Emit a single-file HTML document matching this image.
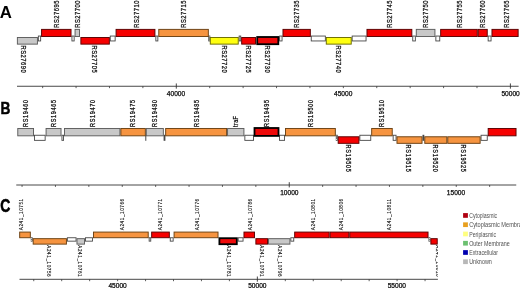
<!DOCTYPE html>
<html><head><meta charset="utf-8"><style>
html,body{margin:0;padding:0;background:#fff;}
body{width:520px;height:288px;overflow:hidden;}
svg{display:block;font-family:"Liberation Sans",sans-serif;}
</style></head><body>
<svg width="520" height="288" viewBox="0 0 520 288">
<defs><clipPath id="clipC"><rect x="0" y="190" width="437.9" height="98"/></clipPath></defs>
<rect width="520" height="288" fill="#fff"/>
<rect x="38.35" y="36.05" width="2.30" height="4.90" fill="#ffffff" stroke="#474747" stroke-width="0.9"/>
<rect x="71.95" y="36.05" width="2.20" height="4.90" fill="#ffffff" stroke="#474747" stroke-width="0.9"/>
<rect x="110.25" y="36.05" width="4.90" height="4.90" fill="#ffffff" stroke="#474747" stroke-width="0.9"/>
<rect x="155.85" y="36.05" width="2.00" height="4.90" fill="#ffffff" stroke="#474747" stroke-width="0.9"/>
<rect x="208.75" y="36.05" width="1.10" height="4.90" fill="#ffffff" stroke="#474747" stroke-width="0.9"/>
<rect x="239.15" y="36.05" width="1.60" height="4.90" fill="#ffffff" stroke="#474747" stroke-width="0.9"/>
<rect x="279.65" y="36.05" width="2.40" height="4.90" fill="#ffffff" stroke="#474747" stroke-width="0.9"/>
<rect x="311.25" y="36.05" width="14.10" height="4.90" fill="#ffffff" stroke="#474747" stroke-width="0.9"/>
<rect x="352.15" y="36.05" width="13.90" height="4.90" fill="#ffffff" stroke="#474747" stroke-width="0.9"/>
<rect x="412.75" y="36.05" width="2.60" height="4.90" fill="#ffffff" stroke="#474747" stroke-width="0.9"/>
<rect x="435.85" y="36.05" width="3.90" height="4.90" fill="#ffffff" stroke="#474747" stroke-width="0.9"/>
<rect x="488.15" y="36.05" width="2.90" height="4.90" fill="#ffffff" stroke="#474747" stroke-width="0.9"/>
<rect x="17.38" y="37.48" width="20.05" height="6.65" fill="#c8c8c8" stroke="#5c5c5c" stroke-width="0.95"/>
<rect x="41.58" y="29.38" width="29.45" height="7.15" fill="#f60000" stroke="#5a0000" stroke-width="0.95"/>
<rect x="75.07" y="29.38" width="4.45" height="7.15" fill="#c8c8c8" stroke="#5c5c5c" stroke-width="0.95"/>
<rect x="80.88" y="37.48" width="28.45" height="6.65" fill="#f60000" stroke="#5a0000" stroke-width="0.95"/>
<rect x="116.07" y="29.38" width="38.85" height="7.15" fill="#f60000" stroke="#5a0000" stroke-width="0.95"/>
<rect x="158.78" y="29.38" width="49.55" height="7.15" fill="#f69440" stroke="#6a4012" stroke-width="0.95"/>
<rect x="210.28" y="37.48" width="27.95" height="6.65" fill="#ffff10" stroke="#6a6a00" stroke-width="0.95"/>
<rect x="241.67" y="37.48" width="13.85" height="6.65" fill="#f60000" stroke="#5a0000" stroke-width="0.95"/>
<rect x="257.20" y="37.00" width="21.10" height="7.20" fill="#ee0a0a" stroke="#000000" stroke-width="1.8"/>
<rect x="282.98" y="29.38" width="27.35" height="7.15" fill="#f60000" stroke="#5a0000" stroke-width="0.95"/>
<rect x="326.28" y="37.48" width="24.95" height="6.65" fill="#ffff10" stroke="#6a6a00" stroke-width="0.95"/>
<rect x="366.98" y="29.38" width="44.85" height="7.15" fill="#f60000" stroke="#5a0000" stroke-width="0.95"/>
<rect x="416.28" y="29.38" width="18.65" height="7.15" fill="#c8c8c8" stroke="#5c5c5c" stroke-width="0.95"/>
<rect x="440.68" y="29.38" width="36.55" height="7.15" fill="#f60000" stroke="#5a0000" stroke-width="0.95"/>
<rect x="478.18" y="29.38" width="9.05" height="7.15" fill="#f60000" stroke="#5a0000" stroke-width="0.95"/>
<rect x="491.98" y="29.38" width="26.15" height="7.15" fill="#f60000" stroke="#5a0000" stroke-width="0.95"/>
<rect x="34.45" y="135.25" width="10.70" height="5.10" fill="#ffffff" stroke="#474747" stroke-width="0.9"/>
<rect x="61.95" y="135.25" width="1.60" height="5.10" fill="#ffffff" stroke="#474747" stroke-width="0.9"/>
<rect x="145.75" y="135.25" width="0.10" height="5.10" fill="#ffffff" stroke="#474747" stroke-width="0.9"/>
<rect x="164.05" y="135.25" width="0.90" height="5.10" fill="#ffffff" stroke="#474747" stroke-width="0.9"/>
<rect x="244.85" y="135.25" width="8.70" height="5.10" fill="#ffffff" stroke="#474747" stroke-width="0.9"/>
<rect x="279.45" y="135.25" width="5.10" height="5.10" fill="#ffffff" stroke="#474747" stroke-width="0.9"/>
<rect x="336.25" y="135.25" width="1.00" height="5.10" fill="#ffffff" stroke="#474747" stroke-width="0.9"/>
<rect x="359.85" y="135.25" width="10.90" height="5.10" fill="#ffffff" stroke="#474747" stroke-width="0.9"/>
<rect x="393.15" y="135.25" width="2.90" height="5.10" fill="#ffffff" stroke="#474747" stroke-width="0.9"/>
<rect x="422.95" y="135.25" width="0.90" height="5.10" fill="#ffffff" stroke="#474747" stroke-width="0.9"/>
<rect x="481.05" y="135.25" width="6.20" height="5.10" fill="#ffffff" stroke="#474747" stroke-width="0.9"/>
<rect x="17.78" y="128.47" width="15.75" height="7.35" fill="#c8c8c8" stroke="#5c5c5c" stroke-width="0.95"/>
<rect x="46.08" y="128.47" width="14.95" height="7.35" fill="#c8c8c8" stroke="#5c5c5c" stroke-width="0.95"/>
<rect x="64.47" y="128.47" width="55.45" height="7.35" fill="#c8c8c8" stroke="#5c5c5c" stroke-width="0.95"/>
<rect x="120.88" y="128.47" width="24.45" height="7.35" fill="#f69440" stroke="#6a4012" stroke-width="0.95"/>
<rect x="146.28" y="128.47" width="17.05" height="7.35" fill="#c8c8c8" stroke="#5c5c5c" stroke-width="0.95"/>
<rect x="165.67" y="128.47" width="60.95" height="7.35" fill="#f69440" stroke="#6a4012" stroke-width="0.95"/>
<rect x="227.57" y="128.47" width="16.35" height="7.35" fill="#c8c8c8" stroke="#5c5c5c" stroke-width="0.95"/>
<rect x="254.50" y="128.00" width="24.00" height="7.90" fill="#ee0a0a" stroke="#000000" stroke-width="1.8"/>
<rect x="285.48" y="128.47" width="49.85" height="7.35" fill="#f69440" stroke="#6a4012" stroke-width="0.95"/>
<rect x="338.18" y="136.78" width="20.75" height="6.55" fill="#f60000" stroke="#5a0000" stroke-width="0.95"/>
<rect x="371.68" y="128.47" width="20.55" height="7.35" fill="#f69440" stroke="#6a4012" stroke-width="0.95"/>
<rect x="396.98" y="136.78" width="25.05" height="6.55" fill="#f69440" stroke="#6a4012" stroke-width="0.95"/>
<rect x="424.78" y="136.78" width="22.05" height="6.55" fill="#f69440" stroke="#6a4012" stroke-width="0.95"/>
<rect x="447.78" y="136.78" width="32.35" height="6.55" fill="#f69440" stroke="#6a4012" stroke-width="0.95"/>
<rect x="488.18" y="128.47" width="27.85" height="7.35" fill="#f60000" stroke="#5a0000" stroke-width="0.95"/>
<line x1="17" y1="86.25" x2="518.6" y2="86.25" stroke="#484848" stroke-width="1.0"/>
<line x1="42.66" y1="86.25" x2="42.66" y2="88.15" stroke="#333" stroke-width="0.8"/>
<line x1="76.07" y1="86.25" x2="76.07" y2="88.15" stroke="#333" stroke-width="0.8"/>
<line x1="109.48" y1="86.25" x2="109.48" y2="88.15" stroke="#333" stroke-width="0.8"/>
<line x1="142.89" y1="86.25" x2="142.89" y2="88.15" stroke="#333" stroke-width="0.8"/>
<line x1="176.30" y1="83.45" x2="176.30" y2="88.65" stroke="#333" stroke-width="0.9"/>
<line x1="209.71" y1="86.25" x2="209.71" y2="88.15" stroke="#333" stroke-width="0.8"/>
<line x1="243.12" y1="86.25" x2="243.12" y2="88.15" stroke="#333" stroke-width="0.8"/>
<line x1="276.53" y1="86.25" x2="276.53" y2="88.15" stroke="#333" stroke-width="0.8"/>
<line x1="309.94" y1="86.25" x2="309.94" y2="88.15" stroke="#333" stroke-width="0.8"/>
<line x1="343.35" y1="86.25" x2="343.35" y2="88.15" stroke="#333" stroke-width="0.8"/>
<line x1="376.76" y1="86.25" x2="376.76" y2="88.15" stroke="#333" stroke-width="0.8"/>
<line x1="410.17" y1="86.25" x2="410.17" y2="88.15" stroke="#333" stroke-width="0.8"/>
<line x1="443.58" y1="86.25" x2="443.58" y2="88.15" stroke="#333" stroke-width="0.8"/>
<line x1="476.99" y1="86.25" x2="476.99" y2="88.15" stroke="#333" stroke-width="0.8"/>
<line x1="510.40" y1="83.45" x2="510.40" y2="88.65" stroke="#333" stroke-width="0.9"/>
<line x1="16.25" y1="185.0" x2="516.25" y2="185.0" stroke="#484848" stroke-width="1.0"/>
<line x1="22.05" y1="185.0" x2="22.05" y2="186.9" stroke="#333" stroke-width="0.8"/>
<line x1="55.45" y1="185.0" x2="55.45" y2="186.9" stroke="#333" stroke-width="0.8"/>
<line x1="88.85" y1="185.0" x2="88.85" y2="186.9" stroke="#333" stroke-width="0.8"/>
<line x1="122.25" y1="185.0" x2="122.25" y2="186.9" stroke="#333" stroke-width="0.8"/>
<line x1="155.65" y1="185.0" x2="155.65" y2="186.9" stroke="#333" stroke-width="0.8"/>
<line x1="189.05" y1="185.0" x2="189.05" y2="186.9" stroke="#333" stroke-width="0.8"/>
<line x1="222.45" y1="185.0" x2="222.45" y2="186.9" stroke="#333" stroke-width="0.8"/>
<line x1="255.85" y1="185.0" x2="255.85" y2="186.9" stroke="#333" stroke-width="0.8"/>
<line x1="289.25" y1="182.2" x2="289.25" y2="187.4" stroke="#333" stroke-width="0.9"/>
<line x1="322.65" y1="185.0" x2="322.65" y2="186.9" stroke="#333" stroke-width="0.8"/>
<line x1="356.05" y1="185.0" x2="356.05" y2="186.9" stroke="#333" stroke-width="0.8"/>
<line x1="389.45" y1="185.0" x2="389.45" y2="186.9" stroke="#333" stroke-width="0.8"/>
<line x1="422.85" y1="185.0" x2="422.85" y2="186.9" stroke="#333" stroke-width="0.8"/>
<line x1="456.25" y1="185.0" x2="456.25" y2="186.9" stroke="#333" stroke-width="0.8"/>
<line x1="489.65" y1="185.0" x2="489.65" y2="186.9" stroke="#333" stroke-width="0.8"/>
<line x1="19.5" y1="279.3" x2="437.9" y2="279.3" stroke="#484848" stroke-width="1.0"/>
<line x1="33.75" y1="279.3" x2="33.75" y2="281.2" stroke="#333" stroke-width="0.8"/>
<line x1="61.70" y1="279.3" x2="61.70" y2="281.2" stroke="#333" stroke-width="0.8"/>
<line x1="89.65" y1="279.3" x2="89.65" y2="281.2" stroke="#333" stroke-width="0.8"/>
<line x1="117.60" y1="279.3" x2="117.60" y2="281.2" stroke="#333" stroke-width="0.8"/>
<line x1="145.55" y1="279.3" x2="145.55" y2="281.2" stroke="#333" stroke-width="0.8"/>
<line x1="173.50" y1="279.3" x2="173.50" y2="281.2" stroke="#333" stroke-width="0.8"/>
<line x1="201.45" y1="279.3" x2="201.45" y2="281.2" stroke="#333" stroke-width="0.8"/>
<line x1="229.40" y1="279.3" x2="229.40" y2="281.2" stroke="#333" stroke-width="0.8"/>
<line x1="257.35" y1="276.5" x2="257.35" y2="281.7" stroke="#333" stroke-width="0.9"/>
<line x1="285.30" y1="279.3" x2="285.30" y2="281.2" stroke="#333" stroke-width="0.8"/>
<line x1="313.25" y1="279.3" x2="313.25" y2="281.2" stroke="#333" stroke-width="0.8"/>
<line x1="341.20" y1="279.3" x2="341.20" y2="281.2" stroke="#333" stroke-width="0.8"/>
<line x1="369.15" y1="279.3" x2="369.15" y2="281.2" stroke="#333" stroke-width="0.8"/>
<line x1="397.10" y1="279.3" x2="397.10" y2="281.2" stroke="#333" stroke-width="0.8"/>
<line x1="425.05" y1="279.3" x2="425.05" y2="281.2" stroke="#333" stroke-width="0.8"/>
<rect x="463.1" y="213.10" width="4.8" height="4.7" fill="#b00010"/>
<rect x="463.1" y="222.36" width="4.8" height="4.7" fill="#e8a020"/>
<rect x="463.1" y="231.62" width="4.8" height="4.7" fill="#ffff80"/>
<rect x="463.1" y="240.88" width="4.8" height="4.7" fill="#6cc070"/>
<rect x="463.1" y="250.14" width="4.8" height="4.7" fill="#0000b0"/>
<rect x="463.1" y="259.40" width="4.8" height="4.7" fill="#b8b8b8"/>
<g clip-path="url(#clipC)"><rect x="31.25" y="237.75" width="1.00" height="3.40" fill="#ffffff" stroke="#474747" stroke-width="0.9"/>
<rect x="67.35" y="237.75" width="8.70" height="3.40" fill="#ffffff" stroke="#474747" stroke-width="0.9"/>
<rect x="85.45" y="237.75" width="7.10" height="3.40" fill="#ffffff" stroke="#474747" stroke-width="0.9"/>
<rect x="149.15" y="237.75" width="1.60" height="3.40" fill="#ffffff" stroke="#474747" stroke-width="0.9"/>
<rect x="170.25" y="237.75" width="2.90" height="3.40" fill="#ffffff" stroke="#474747" stroke-width="0.9"/>
<rect x="238.15" y="237.75" width="4.90" height="3.40" fill="#ffffff" stroke="#474747" stroke-width="0.9"/>
<rect x="290.85" y="237.75" width="2.90" height="3.40" fill="#ffffff" stroke="#474747" stroke-width="0.9"/>
<rect x="428.95" y="237.75" width="1.00" height="3.40" fill="#ffffff" stroke="#474747" stroke-width="0.9"/>
<rect x="19.68" y="232.07" width="10.65" height="5.65" fill="#f69440" stroke="#6a4012" stroke-width="0.95"/>
<rect x="33.18" y="238.67" width="33.25" height="5.45" fill="#f69440" stroke="#6a4012" stroke-width="0.95"/>
<rect x="76.97" y="238.67" width="7.55" height="5.45" fill="#c8c8c8" stroke="#5c5c5c" stroke-width="0.95"/>
<rect x="93.47" y="232.07" width="54.75" height="5.65" fill="#f69440" stroke="#6a4012" stroke-width="0.95"/>
<rect x="151.67" y="232.07" width="17.65" height="5.65" fill="#f60000" stroke="#5a0000" stroke-width="0.95"/>
<rect x="174.07" y="232.07" width="43.95" height="5.65" fill="#f69440" stroke="#6a4012" stroke-width="0.95"/>
<rect x="219.40" y="238.20" width="17.40" height="6.00" fill="#ee0a0a" stroke="#000000" stroke-width="1.8"/>
<rect x="243.97" y="232.07" width="10.55" height="5.65" fill="#f60000" stroke="#5a0000" stroke-width="0.95"/>
<rect x="255.88" y="238.67" width="11.65" height="5.45" fill="#f60000" stroke="#5a0000" stroke-width="0.95"/>
<rect x="268.48" y="238.67" width="21.45" height="5.45" fill="#c8c8c8" stroke="#5c5c5c" stroke-width="0.95"/>
<rect x="294.68" y="232.07" width="34.45" height="5.65" fill="#f60000" stroke="#5a0000" stroke-width="0.95"/>
<rect x="330.08" y="232.07" width="18.75" height="5.65" fill="#f60000" stroke="#5a0000" stroke-width="0.95"/>
<rect x="349.78" y="232.07" width="78.25" height="5.65" fill="#f60000" stroke="#5a0000" stroke-width="0.95"/>
<rect x="430.88" y="238.67" width="6.35" height="5.45" fill="#f60000" stroke="#5a0000" stroke-width="0.95"/></g>
<g style="filter:grayscale(1)" stroke="#111" stroke-width="0.25">
<text transform="translate(20.89,45.50) rotate(90) scale(0.82,1)" font-size="7.0" fill="#000" textLength="33.29" lengthAdjust="spacing">RS27690</text>
<text transform="translate(59.02,27.80) rotate(-90) scale(0.82,1)" font-size="7.0" fill="#000" textLength="33.29" lengthAdjust="spacing">RS27695</text>
<text transform="translate(80.22,27.80) rotate(-90) scale(0.82,1)" font-size="7.0" fill="#000" textLength="33.29" lengthAdjust="spacing">RS27700</text>
<text transform="translate(92.38,45.50) rotate(90) scale(0.82,1)" font-size="7.0" fill="#000" textLength="33.29" lengthAdjust="spacing">RS27705</text>
<text transform="translate(138.51,27.80) rotate(-90) scale(0.82,1)" font-size="7.0" fill="#000" textLength="33.29" lengthAdjust="spacing">RS27710</text>
<text transform="translate(185.81,27.80) rotate(-90) scale(0.82,1)" font-size="7.0" fill="#000" textLength="33.29" lengthAdjust="spacing">RS27715</text>
<text transform="translate(222.19,45.50) rotate(90) scale(0.82,1)" font-size="7.0" fill="#000" textLength="33.29" lengthAdjust="spacing">RS27720</text>
<text transform="translate(245.99,45.50) rotate(90) scale(0.82,1)" font-size="7.0" fill="#000" textLength="33.29" lengthAdjust="spacing">RS27725</text>
<text transform="translate(265.38,45.50) rotate(90) scale(0.82,1)" font-size="7.0" fill="#000" textLength="33.29" lengthAdjust="spacing">RS27730</text>
<text transform="translate(299.31,27.80) rotate(-90) scale(0.82,1)" font-size="7.0" fill="#000" textLength="33.29" lengthAdjust="spacing">RS27735</text>
<text transform="translate(335.69,45.50) rotate(90) scale(0.82,1)" font-size="7.0" fill="#000" textLength="33.29" lengthAdjust="spacing">RS27740</text>
<text transform="translate(392.31,27.80) rotate(-90) scale(0.82,1)" font-size="7.0" fill="#000" textLength="33.29" lengthAdjust="spacing">RS27745</text>
<text transform="translate(428.02,27.80) rotate(-90) scale(0.82,1)" font-size="7.0" fill="#000" textLength="33.29" lengthAdjust="spacing">RS27750</text>
<text transform="translate(462.12,27.80) rotate(-90) scale(0.82,1)" font-size="7.0" fill="#000" textLength="33.29" lengthAdjust="spacing">RS27755</text>
<text transform="translate(485.02,27.80) rotate(-90) scale(0.82,1)" font-size="7.0" fill="#000" textLength="33.29" lengthAdjust="spacing">RS27760</text>
<text transform="translate(509.42,27.80) rotate(-90) scale(0.82,1)" font-size="7.0" fill="#000" textLength="33.29" lengthAdjust="spacing">RS27765</text>
<text transform="translate(27.98,127.00) rotate(-90) scale(0.84,1)" font-size="6.6" fill="#000" textLength="32.38" lengthAdjust="spacing">RS19460</text>
<text transform="translate(56.28,127.00) rotate(-90) scale(0.84,1)" font-size="6.6" fill="#000" textLength="32.38" lengthAdjust="spacing">RS19465</text>
<text transform="translate(95.08,127.00) rotate(-90) scale(0.84,1)" font-size="6.6" fill="#000" textLength="32.38" lengthAdjust="spacing">RS19470</text>
<text transform="translate(135.08,127.00) rotate(-90) scale(0.84,1)" font-size="6.6" fill="#000" textLength="32.38" lengthAdjust="spacing">RS19475</text>
<text transform="translate(157.38,127.00) rotate(-90) scale(0.84,1)" font-size="6.6" fill="#000" textLength="32.38" lengthAdjust="spacing">RS19480</text>
<text transform="translate(199.18,127.00) rotate(-90) scale(0.84,1)" font-size="6.6" fill="#000" textLength="32.38" lengthAdjust="spacing">RS19485</text>
<text transform="translate(238.18,127.00) rotate(-90) scale(0.84,1)" font-size="6.6" fill="#000" textLength="13.10" lengthAdjust="spacing">traF</text>
<text transform="translate(269.18,127.00) rotate(-90) scale(0.84,1)" font-size="6.6" fill="#000" textLength="32.38" lengthAdjust="spacing">RS19495</text>
<text transform="translate(312.88,127.00) rotate(-90) scale(0.84,1)" font-size="6.6" fill="#000" textLength="32.38" lengthAdjust="spacing">RS19500</text>
<text transform="translate(346.12,144.60) rotate(90) scale(0.84,1)" font-size="6.6" fill="#000" textLength="32.38" lengthAdjust="spacing">RS19505</text>
<text transform="translate(384.28,127.00) rotate(-90) scale(0.84,1)" font-size="6.6" fill="#000" textLength="32.38" lengthAdjust="spacing">RS19510</text>
<text transform="translate(406.22,144.60) rotate(90) scale(0.84,1)" font-size="6.6" fill="#000" textLength="32.38" lengthAdjust="spacing">RS19515</text>
<text transform="translate(433.22,144.60) rotate(90) scale(0.84,1)" font-size="6.6" fill="#000" textLength="32.38" lengthAdjust="spacing">RS19520</text>
<text transform="translate(461.22,144.60) rotate(90) scale(0.84,1)" font-size="6.6" fill="#000" textLength="32.38" lengthAdjust="spacing">RS19525</text>
<text x="176.00" y="96.00" font-size="6.6" fill="#000" text-anchor="middle">40000</text>
<text x="343.20" y="96.00" font-size="6.6" fill="#000" text-anchor="middle">45000</text>
<text x="510.60" y="96.00" font-size="6.6" fill="#000" text-anchor="middle">50000</text>
<text x="289.30" y="195.00" font-size="6.6" fill="#000" text-anchor="middle">10000</text>
<text x="456.00" y="195.00" font-size="6.6" fill="#000" text-anchor="middle">15000</text>
<text x="117.60" y="288.30" font-size="6.6" fill="#000" text-anchor="middle">45000</text>
<text x="257.30" y="288.30" font-size="6.6" fill="#000" text-anchor="middle">50000</text>
<text x="396.80" y="288.30" font-size="6.6" fill="#000" text-anchor="middle">55000</text>
<text transform="translate(-0.3,17.6) scale(1.02,1)" font-size="16.5" font-weight="bold" fill="#000" stroke="#000" stroke-width="0">A</text>
<text transform="translate(0.4,114.4) scale(0.84,1)" font-size="16.3" font-weight="bold" fill="#000" stroke="#000" stroke-width="0.5">B</text>
<text transform="translate(0.3,211.8) scale(0.75,1)" font-size="18.6" font-weight="bold" fill="#000" stroke="#000" stroke-width="0.6">C</text>
<text x="469.2" y="218.00" font-size="6.4" fill="#505050" stroke="none" textLength="28.0" lengthAdjust="spacingAndGlyphs">Cytoplasmic</text>
<text x="469.2" y="227.26" font-size="6.4" fill="#505050" stroke="none" textLength="59.0" lengthAdjust="spacingAndGlyphs">Cytoplasmic Membrane</text>
<text x="469.2" y="236.52" font-size="6.4" fill="#505050" stroke="none" textLength="26.8" lengthAdjust="spacingAndGlyphs">Periplasmic</text>
<text x="469.2" y="245.78" font-size="6.4" fill="#505050" stroke="none" textLength="40.5" lengthAdjust="spacingAndGlyphs">Outer Membrane</text>
<text x="469.2" y="255.04" font-size="6.4" fill="#505050" stroke="none" textLength="28.8" lengthAdjust="spacingAndGlyphs">Extracellular</text>
<text x="469.2" y="264.30" font-size="6.4" fill="#505050" stroke="none" textLength="22.7" lengthAdjust="spacingAndGlyphs">Unknown</text>
<g clip-path="url(#clipC)"><text transform="translate(23.40,230.20) rotate(-90) scale(0.84,1)" font-size="5.5" fill="#000" textLength="37.38" lengthAdjust="spacing" stroke-width="0.12">A241_10751</text>
<text transform="translate(46.50,245.30) rotate(90) scale(0.84,1)" font-size="5.5" fill="#000" textLength="37.38" lengthAdjust="spacing" stroke-width="0.12">A241_10756</text>
<text transform="translate(78.30,245.30) rotate(90) scale(0.84,1)" font-size="5.5" fill="#000" textLength="37.38" lengthAdjust="spacing" stroke-width="0.12">A241_10761</text>
<text transform="translate(123.50,230.20) rotate(-90) scale(0.84,1)" font-size="5.5" fill="#000" textLength="37.38" lengthAdjust="spacing" stroke-width="0.12">A241_10766</text>
<text transform="translate(162.20,230.20) rotate(-90) scale(0.84,1)" font-size="5.5" fill="#000" textLength="37.38" lengthAdjust="spacing" stroke-width="0.12">A241_10771</text>
<text transform="translate(198.60,230.20) rotate(-90) scale(0.84,1)" font-size="5.5" fill="#000" textLength="37.38" lengthAdjust="spacing" stroke-width="0.12">A241_10776</text>
<text transform="translate(226.80,245.30) rotate(90) scale(0.84,1)" font-size="5.5" fill="#000" textLength="37.38" lengthAdjust="spacing" stroke-width="0.12">A241_10781</text>
<text transform="translate(251.90,230.20) rotate(-90) scale(0.84,1)" font-size="5.5" fill="#000" textLength="37.38" lengthAdjust="spacing" stroke-width="0.12">A241_10786</text>
<text transform="translate(259.80,245.30) rotate(90) scale(0.84,1)" font-size="5.5" fill="#000" textLength="37.38" lengthAdjust="spacing" stroke-width="0.12">A241_10791</text>
<text transform="translate(277.50,245.30) rotate(90) scale(0.84,1)" font-size="5.5" fill="#000" textLength="37.38" lengthAdjust="spacing" stroke-width="0.12">A241_10796</text>
<text transform="translate(315.00,230.20) rotate(-90) scale(0.84,1)" font-size="5.5" fill="#000" textLength="37.38" lengthAdjust="spacing" stroke-width="0.12">A241_10801</text>
<text transform="translate(342.50,230.20) rotate(-90) scale(0.84,1)" font-size="5.5" fill="#000" textLength="37.38" lengthAdjust="spacing" stroke-width="0.12">A241_10806</text>
<text transform="translate(391.30,230.20) rotate(-90) scale(0.84,1)" font-size="5.5" fill="#000" textLength="37.38" lengthAdjust="spacing" stroke-width="0.12">A241_10811</text>
<text transform="translate(435.60,245.30) rotate(90) scale(0.84,1)" font-size="5.5" fill="#000" textLength="37.38" lengthAdjust="spacing" stroke-width="0.12">A241_10816</text></g>
</g>
</svg>
</body></html>
